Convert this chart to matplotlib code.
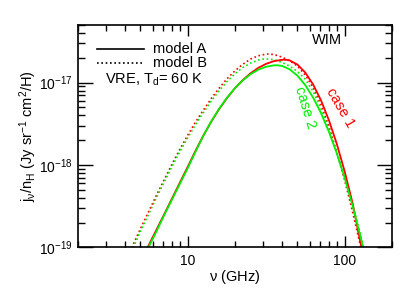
import numpy as np
import matplotlib
matplotlib.use("Agg")
import matplotlib.pyplot as plt
import matplotlib.ticker as ticker

plt.rcParams["font.family"] = ["Liberation Sans", "DejaVu Sans"]
plt.rcParams["mathtext.default"] = "regular"

# log10(nu / GHz) and log10(j_nu/n_H / Jy sr^-1 cm^2 H^-1)
# case 1, model A (red solid)
lognu_a1 = [0.73, 0.75, 0.8, 0.85, 0.9, 0.95, 1.0, 1.05, 1.1, 1.15, 1.2, 1.25, 1.3,
            1.35, 1.4, 1.45, 1.5, 1.55, 1.6, 1.621, 1.65, 1.7, 1.75, 1.8, 1.85,
            1.9, 1.95, 2.0, 2.05, 2.1, 2.12]
logj_a1 = [-19.06, -18.98, -18.79, -18.60, -18.407, -18.215, -18.024, -17.828,
           -17.643, -17.475, -17.324, -17.19, -17.072, -16.972, -16.889, -16.822,
           -16.773, -16.740, -16.7245, -16.723, -16.731, -16.782, -16.879, -17.024,
           -17.216, -17.455, -17.74, -18.073, -18.453, -18.93, -19.1]

# case 2, model A (green solid)
lognu_a2 = [0.73, 0.75, 0.8, 0.85, 0.9, 0.95, 1.0, 1.05, 1.1, 1.15, 1.2, 1.25, 1.3,
            1.35, 1.4, 1.45, 1.5, 1.55, 1.568, 1.6, 1.65, 1.7, 1.75, 1.8, 1.85,
            1.9, 1.95, 2.0, 2.05, 2.1, 2.13]
logj_a2 = [-19.08, -19.0, -18.81, -18.61, -18.42, -18.23, -18.04, -17.839, -17.646,
           -17.473, -17.319, -17.185, -17.071, -16.976, -16.90, -16.844, -16.808,
           -16.791, -16.79, -16.797, -16.839, -16.917, -17.032, -17.183, -17.371,
           -17.595, -17.855, -18.152, -18.486, -18.856, -19.09]

# case 1, model B (red dotted)
lognu_b1 = [0.62, 0.644, 0.7, 0.75, 0.8, 0.85, 0.9, 0.95, 1.0, 1.05, 1.1, 1.15, 1.2,
            1.25, 1.3, 1.35, 1.4, 1.45, 1.504, 1.55, 1.6, 1.65, 1.7, 1.75, 1.8,
            1.85, 1.9, 1.95, 2.0, 2.05, 2.1, 2.12]
logj_b1 = [-19.1, -19.0, -18.77, -18.57, -18.37, -18.18, -17.99, -17.81, -17.64,
           -17.48, -17.335, -17.195, -17.07, -16.955, -16.86, -16.78, -16.715,
           -16.675, -16.653, -16.66, -16.69, -16.735, -16.80, -16.91, -17.06,
           -17.27, -17.53, -17.84, -18.18, -18.56, -18.97, -19.15]

# case 2, model B (green dotted)
lognu_b2 = [0.63, 0.65, 0.7, 0.75, 0.8, 0.85, 0.9, 0.95, 1.0, 1.05, 1.1, 1.15, 1.2,
            1.25, 1.3, 1.35, 1.4, 1.45, 1.493, 1.55, 1.6, 1.65, 1.7, 1.75, 1.8,
            1.85, 1.9, 1.95, 2.0, 2.05, 2.1, 2.13]
logj_b2 = [-19.1, -19.02, -18.80, -18.60, -18.40, -18.21, -18.02, -17.84, -17.67,
           -17.51, -17.365, -17.225, -17.10, -16.99, -16.895, -16.82, -16.765,
           -16.728, -16.711, -16.722, -16.755, -16.80, -16.865, -16.96, -17.11,
           -17.32, -17.57, -17.85, -18.14, -18.47, -18.83, -19.08]

RED = "#ff0000"
GREEN = "#00ee00"
DOT = (0, (1, 1.6))


def unlog(vals):
    return 10 ** np.asarray(vals)


fig = plt.figure(figsize=(4.15, 2.97), dpi=100)
ax = fig.add_axes([0.188, 0.167, 0.756, 0.749])

ax.plot(unlog(lognu_b1), unlog(logj_b1), color=RED, lw=1.2, ls=DOT)
ax.plot(unlog(lognu_b2), unlog(logj_b2), color=GREEN, lw=1.2, ls=DOT)
ax.plot(unlog(lognu_a1), unlog(logj_a1), color=RED, lw=1.3)
ax.plot(unlog(lognu_a2), unlog(logj_a2), color=GREEN, lw=1.3)

ax.set_xscale("log")
ax.set_yscale("log")
ax.set_xlim(2, 200)
ax.set_ylim(1e-19, 5e-17)

ax.xaxis.set_minor_formatter(ticker.NullFormatter())
ax.yaxis.set_minor_formatter(ticker.NullFormatter())
ax.xaxis.set_major_formatter(ticker.FuncFormatter(lambda v, p: f"{v:g}"))
ax.tick_params(which="both", direction="in", top=True, right=True,
               labelsize=10, width=1.0)
ax.tick_params(axis="x", which="major", length=8, pad=5)
ax.tick_params(axis="x", which="minor", length=4)
ax.tick_params(axis="y", which="major", length=11, pad=4)
ax.tick_params(axis="y", which="minor", length=5)
for s in ax.spines.values():
    s.set_linewidth(1.2)

ax.set_xlabel(r"$\nu$ (GHz)", fontsize=10.5, labelpad=0)
ax.set_ylabel(r"j$_\nu$/n$_H$ (Jy sr$^{-1}$ cm$^2$/H)", fontsize=10.5, labelpad=0)

# legend drawn by hand
ax.plot([0.061, 0.210], [0.891, 0.891], transform=ax.transAxes, color="k", lw=1.2)
ax.plot([0.061, 0.210], [0.828, 0.828], transform=ax.transAxes, color="k", lw=1.2,
        ls=DOT)
ax.text(0.239, 0.891, "model A", transform=ax.transAxes, fontsize=10.5, va="center")
ax.text(0.239, 0.828, "model B", transform=ax.transAxes, fontsize=10.5, va="center")
ax.text(0.086, 0.753, "VRE, T$_d$= 60 K", transform=ax.transAxes, fontsize=10.5,
        va="center")
ax.text(0.746, 0.933, "WIM", transform=ax.transAxes, fontsize=10.5, va="center")
ax.text(0.835, 0.627, "case 1", transform=ax.transAxes, fontsize=10.5, color=RED,
        rotation=-60, ha="center", va="center", rotation_mode="anchor")
ax.text(0.725, 0.627, "case 2", transform=ax.transAxes, fontsize=10.5, color=GREEN,
        rotation=-73, ha="center", va="center", rotation_mode="anchor")

fig.savefig("out.png", dpi=100)
